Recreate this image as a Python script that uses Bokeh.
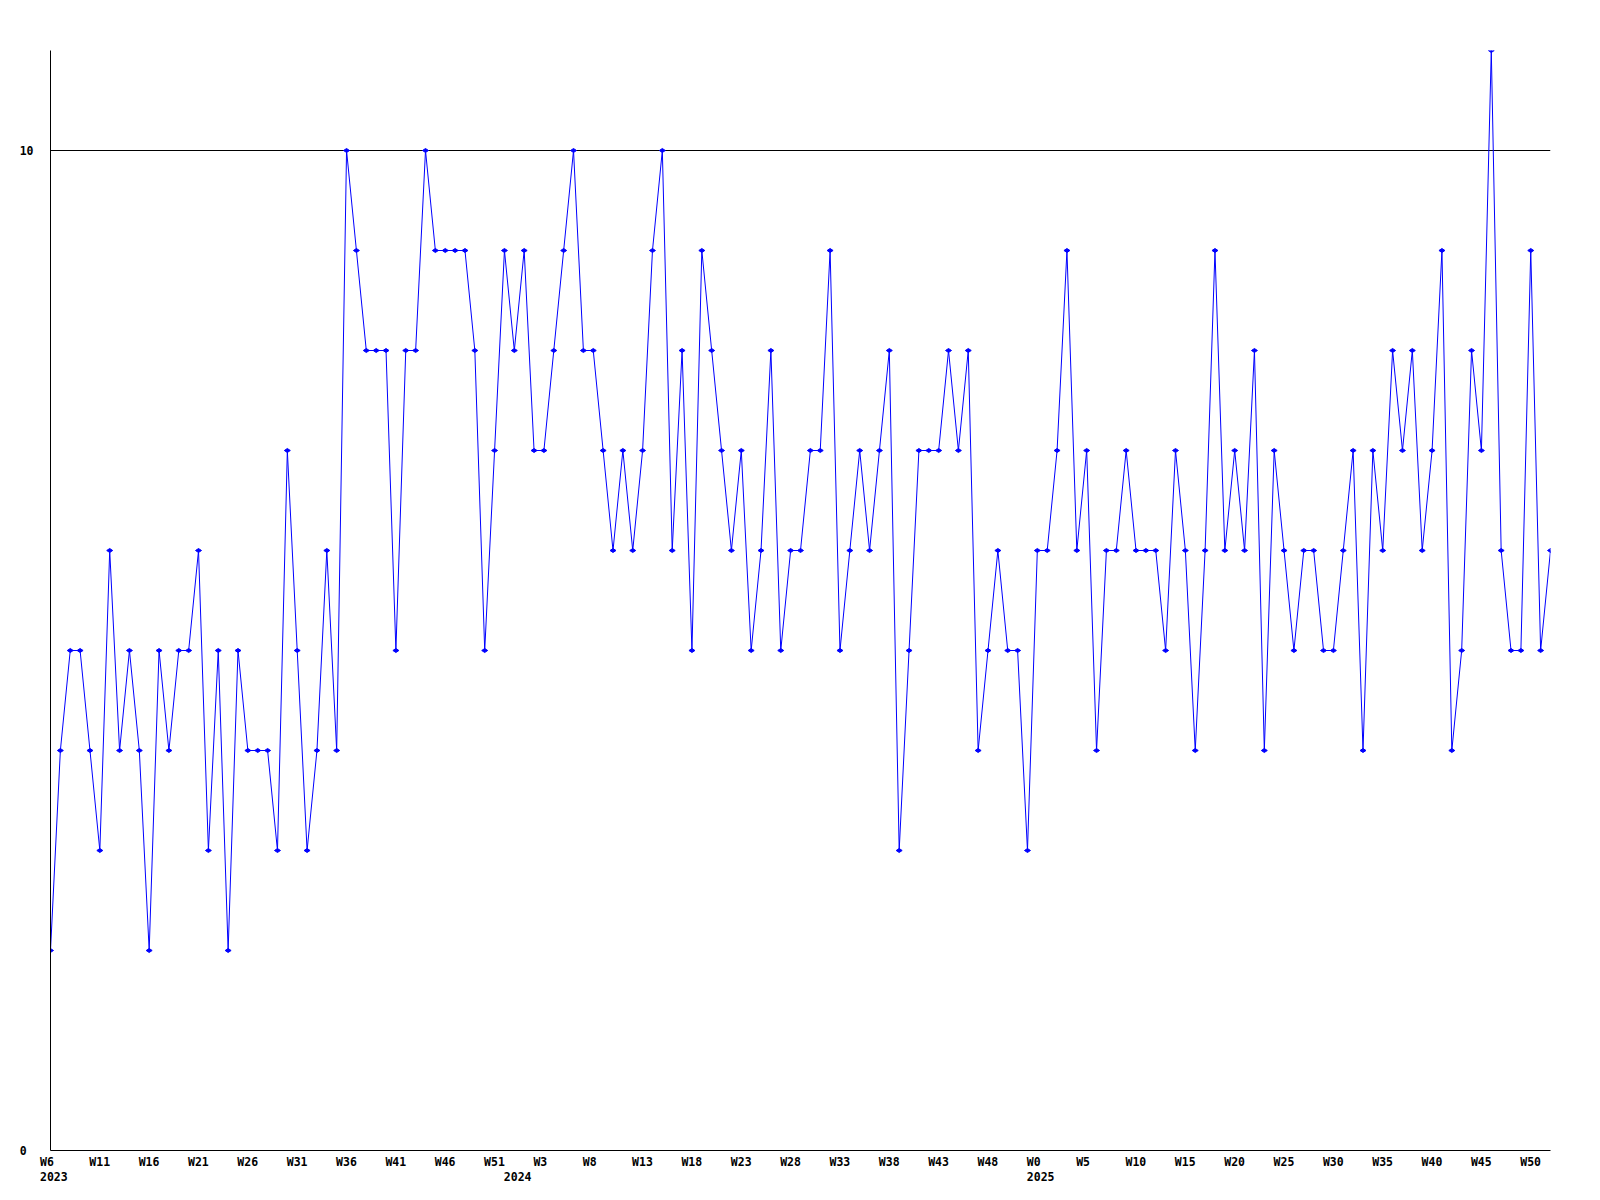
import math
from bokeh.plotting import figure
from bokeh.models import Range1d, FixedTicker, LinearAxis
from bokeh.embed import file_html
from bokeh.resources import INLINE

# ---- data -------------------------------------------------------------
# weekly counts, 2023 W6 ... 2025 W52
values = [
    2, 4, 5, 5, 4, 3, 6, 4, 5, 4,
    2, 5, 4, 5, 5, 6, 3, 5, 2, 5,
    4, 4, 4, 3, 7, 5, 3, 4, 6, 4,
    10, 9, 8, 8, 8, 5, 8, 8, 10, 9,
    9, 9, 9, 8, 5, 7, 9, 8, 9, 7,
    7, 8, 9, 10, 8, 8, 7, 6, 7, 6,
    7, 9, 10, 6, 8, 5, 9, 8, 7, 6,
    7, 5, 6, 8, 5, 6, 6, 7, 7, 9,
    5, 6, 7, 6, 7, 8, 3, 5, 7, 7,
    7, 8, 7, 8, 4, 5, 6, 5, 5, 3,
    6, 6, 7, 9, 6, 7, 4, 6, 6, 7,
    6, 6, 6, 5, 7, 6, 4, 6, 9, 6,
    7, 6, 8, 4, 7, 6, 5, 6, 6, 5,
    5, 6, 7, 4, 7, 6, 8, 7, 8, 6,
    7, 9, 4, 5, 8, 7, 11, 6, 5, 5,
    9, 5, 6,
]

# categories: (year, first week, last week)
year_spans = [(2023, 6, 52), (2024, 0, 52), (2025, 0, 52)]
week_names = [f"W{w}" for (yr, a, b) in year_spans for w in range(a, b + 1)]
week_years = [yr for (yr, a, b) in year_spans for w in range(a, b + 1)]

label_every = 5
y_ticks = [0, 10]
grid_lines = [10]

# ---- figure -------------------------------------------------------------
n = len(values)
xs = list(range(n))
FRAME_W = 1500
px_per_x = FRAME_W / (n - 1)
CHAR_W = 6.92        # monospace advance at 11.5px
LEFT_PAD = 10.5      # labels start this many px left of their point
NBSP = "\u00a0"


def place(i, label):
    """Return (tick, text) so a centred axis label starts LEFT_PAD px left of point i."""
    shift = (-LEFT_PAD + len(label) * CHAR_W / 2) / px_per_x
    if i + shift < 0:           # would fall outside the range: pad to 3 chars instead
        label = label + NBSP * (3 - len(label))
        shift = 0.0005
    return round(i + shift, 4), label


p = figure(
    frame_width=FRAME_W, frame_height=1100,
    x_range=Range1d(0, n - 1), y_range=Range1d(0, max(values)),
    output_backend="svg", toolbar_location=None,
    min_border_left=50, min_border_right=42,
    min_border_top=50, min_border_bottom=40,
    background_fill_color="white", border_fill_color="white",
)
p.outline_line_color = None
p.xgrid.visible = False
p.ygrid.ticker = FixedTicker(ticks=grid_lines)
p.ygrid.grid_line_color = "black"
p.ygrid.grid_line_width = 1

label_style = dict(
    major_label_text_font="DejaVu Sans Mono",
    major_label_text_font_style="bold",
    major_label_text_font_size="11.5px",
    major_label_text_color="black",
)


def style_axis(ax, line=True):
    ax.axis_line_color = "black" if line else None
    ax.axis_line_width = 1
    ax.major_tick_line_color = None
    ax.minor_tick_line_color = None
    ax.major_tick_out = 0
    ax.major_tick_in = 0
    ax.minor_tick_out = 0
    ax.minor_tick_in = 0
    for k, v in label_style.items():
        setattr(ax, k, v)


# week labels (bottom axis)
tick_idx = list(range(0, n, label_every))
wk = [place(i, week_names[i]) for i in tick_idx]
xa = p.xaxis[0]
style_axis(xa)
xa.ticker = FixedTicker(ticks=[t for t, _ in wk])
xa.major_label_overrides = {t: s for t, s in wk}
xa.major_label_standoff = 4

# year labels (second bottom axis)
year_idx = [i for i in range(n) if i == 0 or week_years[i] != week_years[i - 1]]
yr = [place(i, str(week_years[i])) for i in year_idx]
xa2 = LinearAxis(ticker=FixedTicker(ticks=[t for t, _ in yr]),
                 major_label_overrides={t: s for t, s in yr})
style_axis(xa2, line=False)
xa2.major_label_standoff = 0
p.add_layout(xa2, "below")

# value labels (left axis)
ya = p.yaxis[0]
style_axis(ya)
ya.ticker = FixedTicker(ticks=y_ticks)
ya.major_label_overrides = {v: (str(v) + NBSP * (2 - len(str(v)))) for v in y_ticks}
ya.major_label_standoff = 17

p.line(xs, values, line_color="#0000ff", line_width=1)
p.scatter(xs, values, marker="diamond", size=6, angle=math.pi / 2,
          fill_color="#0000ff", line_color="#0000ff", line_width=1)

open("out.html", "w").write(file_html(p, INLINE))
